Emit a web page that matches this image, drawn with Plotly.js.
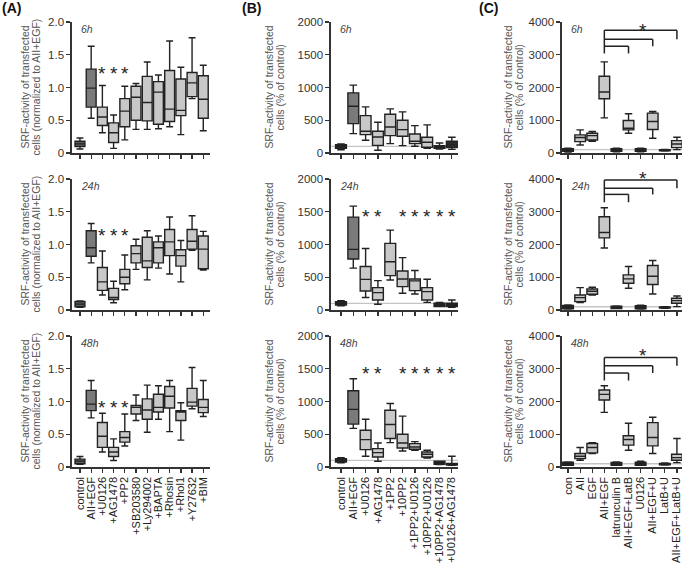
<!DOCTYPE html>
<html><head><meta charset="utf-8">
<script src="https://cdn.plot.ly/plotly-3.0.1.min.js"></script>
<style>html,body{margin:0;padding:0;background:#fff}#chart{width:685px;height:564px}</style>
</head><body><div id="chart"></div>
<script>
// ---------- categories ----------
const catsA = ['control','AII+EGF','+U0126','+AG1478','+PP2','+SB203580','+Ly294002','+BAPTA','+Rhosin','+Rhol1','+Y27632','+BIM'];
const catsB = ['control','AII+EGF','+U0126','+AG1478','+1PP2','+10PP2','+1PP2+U0126','+10PP2+U0126','+10PP2+AG1478','+U0126+AG1478'];
const catsC = ['con','AII','EGF','AII+EGF','latrunculin B','AII+EGF+LatB','U0126','AII+EGF+U','LatB+U','AII+EGF+LatB+U'];
const timeLabels = ['6h','24h','48h'];

// ---------- box statistics: [lower whisker, q1, median, q3, upper whisker] ----------
const A6h = [[0.06,0.10,0.14,0.18,0.23],[0.53,0.70,0.99,1.28,1.63],[0.31,0.42,0.55,0.70,1.03],[0.07,0.16,0.31,0.46,0.58],
  [0.20,0.40,0.64,0.83,1.02],[0.36,0.50,0.85,1.02,1.06],[0.36,0.49,0.77,1.17,1.39],[0.37,0.44,0.93,1.09,1.19],
  [0.40,0.48,0.67,1.26,1.71],[0.28,0.57,0.65,1.13,1.31],[0.83,0.86,1.07,1.23,1.76],[0.34,0.53,0.82,1.18,1.34]];
const A24h = [[0.04,0.05,0.09,0.13,0.14],[0.72,0.82,0.95,1.21,1.32],[0.23,0.30,0.43,0.65,0.90],[0.11,0.16,0.19,0.33,0.44],
  [0.31,0.40,0.50,0.62,0.84],[0.62,0.72,0.86,0.98,1.08],[0.46,0.65,0.75,1.11,1.21],[0.64,0.72,0.95,1.04,1.13],
  [0.55,0.83,1.04,1.23,1.42],[0.43,0.67,0.83,0.92,1.06],[0.91,0.93,1.05,1.23,1.44],[0.61,0.63,0.93,1.13,1.20]];
const A48h = [[0.04,0.05,0.09,0.12,0.16],[0.75,0.86,0.96,1.17,1.32],[0.23,0.30,0.47,0.68,0.82],[0.10,0.16,0.23,0.30,0.43],
  [0.32,0.38,0.45,0.54,0.81],[0.71,0.81,0.91,0.94,1.10],[0.53,0.73,0.87,1.04,1.25],[0.73,0.84,0.91,1.11,1.24],
  [0.54,0.90,1.08,1.23,1.32],[0.41,0.71,0.84,0.86,0.98],[0.89,0.93,0.99,1.20,1.52],[0.77,0.83,0.91,1.03,1.32]];

const B6h = [[50,70,100,125,140],[296,449,714,918,1036],[194,281,332,571,704],[41,117,245,332,469],[143,265,398,592,673],
  [112,255,357,500,628],[102,143,179,291,418],[71,87,163,240,429],[61,71,92,112,153],[56,82,128,179,240]];
const B24h = [[66,77,102,128,143],[640,778,925,1418,1586],[190,290,468,665,940],[87,153,265,342,449],[459,525,737,1017,1220],
  [255,357,474,596,800],[245,296,444,474,602],[117,153,281,342,469],[51,51,77,102,117],[41,51,77,102,153]];
const B48h = [[66,77,102,128,143],[590,655,880,1163,1347],[163,265,418,561,730],[87,153,219,281,367],[372,434,648,867,969],
  [245,291,367,500,776],[255,270,306,357,388],[138,153,194,230,255],[36,41,66,87,87],[26,30,40,55,163]];

const C6h = [[30,50,90,130,150],[246,348,471,552,706],[358,399,530,604,655],[1074,1657,1862,2343,2783],[40,50,90,130,145],
  [604,706,757,992,1197],[40,50,90,130,150],[450,716,962,1217,1268],[60,70,90,100,110],[102,164,276,378,481]];
const C24h = [[31,40,92,140,153],[224,255,377,459,683],[459,479,571,643,694],[1894,2202,2365,2847,3123],[41,45,82,115,122],
  [663,816,949,1071,1326],[31,40,92,135,143],[490,780,1030,1360,1510],[55,62,80,95,100],[102,204,286,357,428]];
const C48h = [[51,55,103,150,154],[205,256,328,410,595],[410,431,595,718,739],[1668,2044,2217,2349,2481],[51,55,103,140,154],
  [513,667,841,954,1334],[51,55,103,150,175],[410,646,903,1354,1518],[60,70,90,110,120],[133,205,287,390,872]];

// ---------- significance marks ----------
const starsA_cats = [2,3,4];
const starsA_y = [1.29,1.22,0.98];
const starsB_cats = [2,3,5,6,7,8,9];
const starsB_y = [null,1500,1500];
const bracketC_from = 3;
const bracketC_to = [9,7,5];
const bracketC_levels = [[3750,3470,3260,3040],[3970,3720,3530,3290],[3340,3090,2870,2640]];
const starC_x = 6.2;
const starC_y = [3880,4170,3545];
const refLine = 100;

// ---------- styling ----------
const LIGHT='#c8c8c8', MID='#7a7a7a', DARK='#2a2a2a';
const W=685, H=564;
const FONT='Liberation Sans, Arial, sans-serif';
const STAR = {size:19, color:'#222', family:FONT};
const STARSHIFT = -5;
const cols = [
  {cats:catsA, data:[A6h,A24h,A48h], fill:catsA.map((c,i)=>i===0?'#5e5e5e':i===1?MID:LIGHT),
   xr:[-0.71,11.6], xd:[72,210], yr:[0,2], tv:[0,0.5,1,1.5,2], tt:['0','0.5','1.0','1.5','2.0'],
   t1:'SRF-activity of transfected', t2:'cells (normalized to AII+EGF)', tx:[24,35], label:'(A)', lx:0},
  {cats:catsB, data:[B6h,B24h,B48h], fill:catsB.map((c,i)=>(i===0||i>=8)?DARK:i===1?MID:LIGHT),
   xr:[-0.81,9.5], xd:[331,458], yr:[0,2000], tv:[0,500,1000,1500,2000], tt:['0','500','1000','1500','2000'],
   t1:'SRF-activity of transfected', t2:'cells (% of control)', tx:[268,279], label:'(B)', lx:240},
  {cats:catsC, data:[C6h,C24h,C48h], fill:catsC.map((c,i)=>[0,4,6,8].includes(i)?DARK:LIGHT),
   xr:[-0.5,9.42], xd:[562,682], yr:[0,4000], tv:[0,1000,2000,3000,4000], tt:['0','1000','2000','3000','4000'],
   t1:'SRF-activity of transfected', t2:'cells (% of control)', tx:[507,518], label:'(C)', lx:477}
];
const rowsPx = [[22,153],[179,310],[336,467]];

const traces=[], shapes=[], annotations=[];
const layout = {width:W, height:H, margin:{l:0,r:0,t:0,b:0}, paper_bgcolor:'#fff', plot_bgcolor:'rgba(0,0,0,0)',
  boxmode:'overlay', showlegend:false, font:{family:FONT, color:'#333'}};

cols.forEach((col,c)=>{
  annotations.push({xref:'paper', yref:'paper', x:col.lx/W, y:1-8/H, xanchor:'left', yanchor:'middle', showarrow:false,
    text:'<b>'+col.label+'</b>', font:{size:14, color:'#111', family:FONT}});
  rowsPx.forEach((rp,r)=>{
    const idx = r*3+c+1;
    const xs = idx===1?'':String(idx);
    const xa = 'x'+xs, ya = 'y'+xs;
    layout['xaxis'+xs] = {domain:[col.xd[0]/W, col.xd[1]/W], range:col.xr, anchor:ya,
      tickmode:'array', tickvals:col.cats.map((_,i)=>i), ticktext:col.cats, showticklabels:r===2, tickangle:-90,
      ticks:'outside', ticklen:4, tickwidth:1.3, tickcolor:'#333', showline:true, linecolor:'#333', linewidth:1.6,
      showgrid:false, zeroline:false, automargin:false, tickfont:{size:11, color:'#222', family:FONT}};
    layout['yaxis'+xs] = {domain:[1-rp[1]/H, 1-rp[0]/H], range:col.yr, anchor:xa,
      tickmode:'array', tickvals:col.tv, ticktext:col.tt, ticks:'outside', ticklen:4, tickwidth:1.3, tickcolor:'#333',
      showline:true, linecolor:'#333', linewidth:1.6, showgrid:false, zeroline:false, automargin:false,
      tickfont:{size:11.5, color:'#333', family:FONT}};
    if(c>0){
      shapes.push({type:'line', xref:xa+' domain', yref:ya, x0:0, x1:1, y0:refLine, y1:refLine,
        line:{color:'#c4c4c4', width:1.3}, layer:'below'});
    }
    col.data[r].forEach((d,j)=>{
      traces.push({type:'box', x:[j], lowerfence:[d[0]], q1:[d[1]], median:[d[2]], q3:[d[3]], upperfence:[d[4]],
        xaxis:xa, yaxis:ya, fillcolor:col.fill[j], line:{color:'#222', width:1.4}, width:0.88, whiskerwidth:0.7,
        boxpoints:false, showlegend:false, hoverinfo:'skip'});
    });
    const cy = (rp[0]+rp[1])/2;
    [col.t1,col.t2].forEach((t,k)=>{
      annotations.push({xref:'paper', yref:'paper', x:col.tx[k]/W, y:1-cy/H, xanchor:'center', yanchor:'middle',
        textangle:-90, showarrow:false, text:t, font:{size:10.5, color:'#555', family:FONT}});
    });
    annotations.push({xref:'paper', yref:'paper', x:(col.xd[0]+7)/W, y:1-(rp[0]+7)/H, xanchor:'left', yanchor:'middle',
      showarrow:false, text:'<i>'+timeLabels[r]+'</i>', font:{size:10.5, color:'#444', family:FONT}});
    // stars
    if(c===0){
      starsA_cats.forEach(k=>annotations.push({xref:xa, yref:ya, x:k, y:starsA_y[r], text:'*', showarrow:false,
        xanchor:'center', yanchor:'middle', yshift:STARSHIFT, font:STAR}));
    }
    if(c===1 && starsB_y[r]!==null){
      starsB_cats.forEach(k=>annotations.push({xref:xa, yref:ya, x:k, y:starsB_y[r], text:'*', showarrow:false,
        xanchor:'center', yanchor:'middle', yshift:STARSHIFT, font:STAR}));
    }
    if(c===2){
      const L = bracketC_levels[r];
      const ln = {color:'#222', width:1.5};
      shapes.push({type:'line', xref:xa, yref:ya, x0:bracketC_from, x1:bracketC_from, y0:L[3], y1:L[0], line:ln});
      bracketC_to.forEach((t,k)=>{
        shapes.push({type:'line', xref:xa, yref:ya, x0:bracketC_from, x1:t, y0:L[k], y1:L[k], line:ln});
        shapes.push({type:'line', xref:xa, yref:ya, x0:t, x1:t, y0:L[k], y1:L[k+1], line:ln});
      });
      // star may sit above the axis range: place via the axis domain so it is never hidden
      const frac = starC_y[r]/col.yr[1];
      annotations.push({xref:xa, yref:ya+' domain', x:starC_x, y:frac, text:'*', showarrow:false,
        xanchor:'center', yanchor:'middle', yshift:STARSHIFT, font:STAR});
    }
  });
});
layout.shapes = shapes;
layout.annotations = annotations;
Plotly.newPlot('chart', traces, layout, {displayModeBar:false, staticPlot:true});
</script>
</body></html>
